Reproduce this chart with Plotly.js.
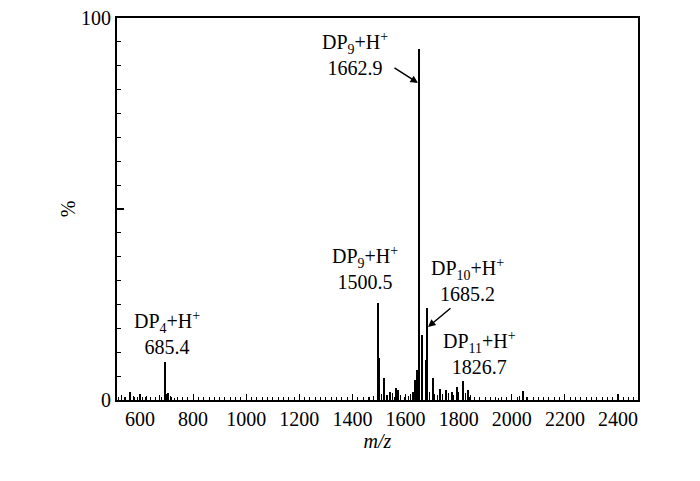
<!DOCTYPE html>
<html>
<head>
<meta charset="utf-8">
<script src="https://cdn.plot.ly/plotly-3.0.1.min.js"></script>
<style>html,body{margin:0;padding:0;background:#fff;}#chart{width:700px;height:481px;}</style>
</head>
<body>
<div id="chart"></div>
<script>
// m/z positions (as drawn) and relative intensities (%)
var peakMz = [562, 694, 706.6, 1497.4, 1502, 1520, 1541.4, 1564, 1570, 1635.6, 1642, 1650.6, 1660.8, 1675.9, 1681.9, 1702, 1729.7, 1752.3, 1773.7, 1792.6, 1817.4, 1835, 2042];
var peakInt = [2.2, 9.9, 1.8, 25.4, 11, 5.7, 2.2, 3.2, 2.5, 5.2, 7.8, 92, 17, 10.5, 24, 5.8, 3, 2.6, 2.2, 3.5, 5, 2.6, 2.4];
var noiseMz = [520, 530, 545, 575, 590, 610, 625, 640, 660, 672, 700, 715, 730, 760, 1440, 1465, 1480, 1510, 1530, 1550, 1580, 1595, 1610, 1620, 1628, 1690, 1710, 1720, 1740, 1760, 1780, 1800, 1825, 1845, 1860, 1880, 1900, 1950, 2000, 2030, 2055, 2100, 2200];
var noiseInt = [0.8, 1.2, 0.9, 1.0, 0.7, 0.8, 1.1, 0.6, 0.9, 1.3, 1.5, 1.0, 0.6, 0.5, 0.6, 0.8, 1.0, 1.5, 1.4, 1.8, 1.2, 0.9, 1.1, 1.6, 2.0, 2.0, 1.6, 1.2, 1.5, 1.8, 1.4, 2.0, 1.8, 1.2, 0.9, 0.8, 0.6, 0.5, 0.6, 1.0, 0.9, 0.5, 0.4];

// labels
var labelText = ['DP<sub>9</sub>+H<sup>+</sup><br>1662.9', 'DP<sub>9</sub>+H<sup>+</sup><br>1500.5', 'DP<sub>10</sub>+H<sup>+</sup><br>1685.2', 'DP<sub>11</sub>+H<sup>+</sup><br>1826.7', 'DP<sub>4</sub>+H<sup>+</sup><br>685.4'];
var labelX = [1409.6, 1445.4, 1831.4, 1880.3, 699.8];
var labelY = [90.7, 34.55, 31.5, 12.2, 17.5];

var xTickVals = [600, 800, 1000, 1200, 1400, 1600, 1800, 2000, 2200, 2400];
var yTickVals = [0, 50, 100];
var yTickText = ['0', '', '100'];

var font = 'Liberation Serif, Times New Roman, serif';

var traces = [
  {type: 'bar', x: noiseMz, y: noiseInt, width: 4, marker: {color: '#000', line: {width: 0}}, hoverinfo: 'x+y'},
  {type: 'bar', x: peakMz, y: peakInt, width: 7, marker: {color: '#000', line: {width: 0}}, hoverinfo: 'x+y'}
];

var annotations = labelText.map(function (t, i) {
  return {x: labelX[i], y: labelY[i], xref: 'x', yref: 'y', text: t, showarrow: false,
    xanchor: 'center', yanchor: 'middle', font: {family: font, size: 20, color: '#000'}};
});
annotations.push({x: 1646.8, y: 83.0, xref: 'x', yref: 'y', text: '', showarrow: true,
  ax: -25, ay: -16, arrowhead: 2, arrowsize: 1, arrowwidth: 1.5, arrowcolor: '#000'});
annotations.push({x: 1684.5, y: 19.1, xref: 'x', yref: 'y', text: '', showarrow: true,
  ax: 24, ay: -20, arrowhead: 2, arrowsize: 1, arrowwidth: 1.5, arrowcolor: '#000'});

var layout = {
  width: 700, height: 481,
  margin: {l: 117, r: 62, t: 18, b: 81, pad: 0},
  paper_bgcolor: '#fff', plot_bgcolor: '#fff',
  showlegend: false,
  bargap: 0,
  font: {family: font, size: 20, color: '#000'},
  xaxis: {
    range: [513.4, 2475.3], showline: true, linecolor: '#000', linewidth: 2, mirror: true,
    showgrid: false, zeroline: false,
    tickmode: 'array', tickvals: xTickVals, ticks: 'inside', ticklen: 6, tickwidth: 1.2, tickcolor: '#000',
    minor: {dtick: 20, tick0: 0, ticks: 'inside', ticklen: 3, tickwidth: 1, tickcolor: '#000', showgrid: false},
    tickfont: {family: font, size: 20, color: '#000'},
    title: {text: '<i>m/z</i>', font: {family: font, size: 20, color: '#000'}, standoff: 2}
  },
  yaxis: {
    range: [0, 100], showline: true, linecolor: '#000', linewidth: 2, mirror: true,
    showgrid: false, zeroline: false,
    tickmode: 'array', tickvals: yTickVals, ticktext: yTickText, ticks: 'inside', ticklen: 7, tickwidth: 1.2, tickcolor: '#000',
    minor: {dtick: 6.25, tick0: 0, ticks: 'inside', ticklen: 4, tickwidth: 1, tickcolor: '#000', showgrid: false},
    tickfont: {family: font, size: 20, color: '#000'},
    title: {text: '%', font: {family: font, size: 20, color: '#000'}, standoff: 0}
  },
  annotations: annotations
};

Plotly.newPlot('chart', traces, layout, {displayModeBar: false, staticPlot: true});
</script>
</body>
</html>
